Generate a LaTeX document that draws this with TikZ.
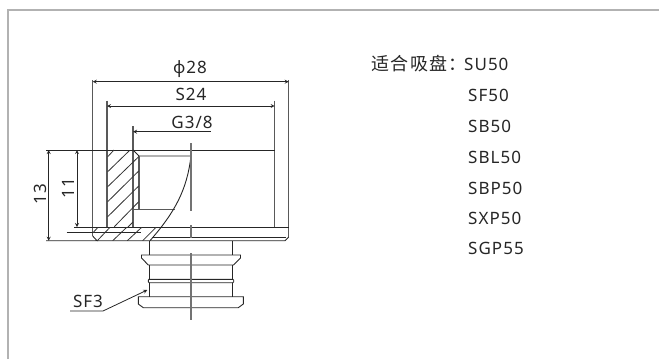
\documentclass[tikz,border=0pt]{standalone}
\usepackage{fontspec}
\setmainfont[LetterSpace=6]{Noto Sans}
\newfontfamily\cjk[LetterSpace=8]{Noto Sans CJK SC}
\begin{document}
\begin{tikzpicture}[x=1pt,y=-1pt,>=stealth,
  line/.style={draw=black!85,line width=.9pt},
  ext/.style={draw=black!65,line width=1.1pt},
  dim/.style={draw=black!85,line width=.8pt},
  hatch/.style={draw=black!80,line width=.8pt},
  center line/.style={draw=black!55,line width=1.1pt},
  lab/.style={font=\fontsize{17}{18}\selectfont,text=black!85,inner sep=0pt},
  item/.style={lab,anchor=base west}]
 \useasboundingbox (0,0) rectangle (659,359);
 \draw[black!30,line width=1.2pt] (8,359) -- (8,10) -- (659,10);
 % extension lines
 \draw[ext] (92.7,80) -- (92.7,236);
 \draw[ext] (288.7,80) -- (288.7,237);
 \draw[ext] (107,100.7) -- (107,227);
 \draw[ext] (274.7,100.7) -- (274.7,227);
 \draw[ext] (133,126) -- (133,227);
 % dimensions on top
 \draw[dim,<->] (92.7,81.7) -- (288.7,81.7);
 \draw[dim,<->] (107,106) -- (274.7,106);
 \draw[dim,<-] (133,131.7) -- (210.7,131.7);
 \node[lab] (dia) at (190,69) {ϕ28};
 \node[lab] (across) at (191,94) {S24};
 \node[lab] (thread) at (192,122) {G3/8};
 % body
 \draw[line] (46,150) -- (274.7,150);
 \draw[line] (74,227) -- (288.7,227);
 \draw[line] (66.7,232.3) -- (140.7,232.3);
 \draw[line] (46,240.7) -- (97,240.7) -- (92.7,236);
 \draw[line] (97,240.7) -- (285,240.7) -- (288.7,237);
 \draw[line] (152,237.7) -- (286,237.7);
 \draw[line] (133,150) -- (139,156) -- (191,156);
 \draw[ext] (139,156) -- (139,209.7);
 \draw[ext] (133,209.7) -- (175,209.7);
 \draw[line] (191,156) .. controls (187,190) and (175,212) .. (150,240.7);
 % left dimensions
 \draw[dim,<->] (48.7,150) -- (48.7,240.7);
 \draw[dim,<->] (77,150) -- (77,227);
 \node[lab,rotate=90] (total) at (40,194) {13};
 \node[lab,rotate=90] (depth) at (68,188) {11};
 % hatching
 \draw[hatch] (107.7,156.7) -- (114,150);
 \draw[hatch] (107.7,171.7) -- (129.3,150.7);
 \draw[hatch] (107.7,186.7) -- (138.7,156.7);
 \draw[hatch] (107.7,201.7) -- (138.7,171);
 \draw[hatch] (107.7,216.7) -- (138.7,186);
 \draw[hatch] (114.3,226.7) -- (138.7,201.7);
 \draw[hatch] (128,227) -- (133,222);
 \draw[hatch] (93,232.7) -- (98,227.3);
 \draw[hatch] (97.3,240.7) -- (110,227.3);
 \draw[hatch] (112.7,240.7) -- (126.7,227.3);
 \draw[hatch] (127.3,240.7) -- (141.7,227.3);
 \draw[hatch] (142.7,240.7) -- (156,227.3);
 % fitting
 \draw[line] (149.3,241) -- (149.3,255);
 \draw[line] (232.3,241) -- (232.3,255);
 \draw[line] (148.3,265) -- (141.5,258) -- (141.5,255) -- (240.5,255) -- (240.5,258) -- (233.5,265) -- cycle;
 \draw[line] (149.3,265) -- (149.3,279.3);
 \draw[line] (232.3,265) -- (232.3,279.3);
 \draw[line,rounded corners=1pt] (149.3,279.3) -- (233.7,279.3) -- (233.7,282.7) -- (148.3,282.7) -- (148.3,279.3) -- cycle;
 \draw[line] (149.3,282.7) -- (149.3,296.7);
 \draw[line] (232.3,282.7) -- (232.3,296.7);
 \draw[line] (138.3,296.7) -- (243.3,296.7) -- (243.3,304) -- (238.3,307.7) -- (143.3,307.7) -- (138.3,304) -- cycle;
 % center line
 \draw[center line] (191,143) -- (191,210.7);
 \draw[center line] (191,225) -- (191,238);
 \draw[center line] (191,253) -- (191,320);
 % SF3 leader
 \node[lab] (port) at (88,301.7) {SF3};
 \draw[dim,->] (70,311) -- (103,311) -- (147.3,290);
 % list
 \node[lab,anchor=base west,font=\fontsize{18}{19}\selectfont] (cups) at (371,70.5) {\cjk 适合吸盘：};
 \node[item] (su) at (464,70.5) {SU50};
 \node[item] (sf) at (468,101) {SF50};
 \node[item] (sb) at (468,132) {SB50};
 \node[item] (sbl) at (468,163) {SBL50};
 \node[item] (sbp) at (468,194) {SBP50};
 \node[item] (sxp) at (468,224) {SXP50};
 \node[item] (sgp) at (468,254) {SGP55};
\end{tikzpicture}
\end{document}
